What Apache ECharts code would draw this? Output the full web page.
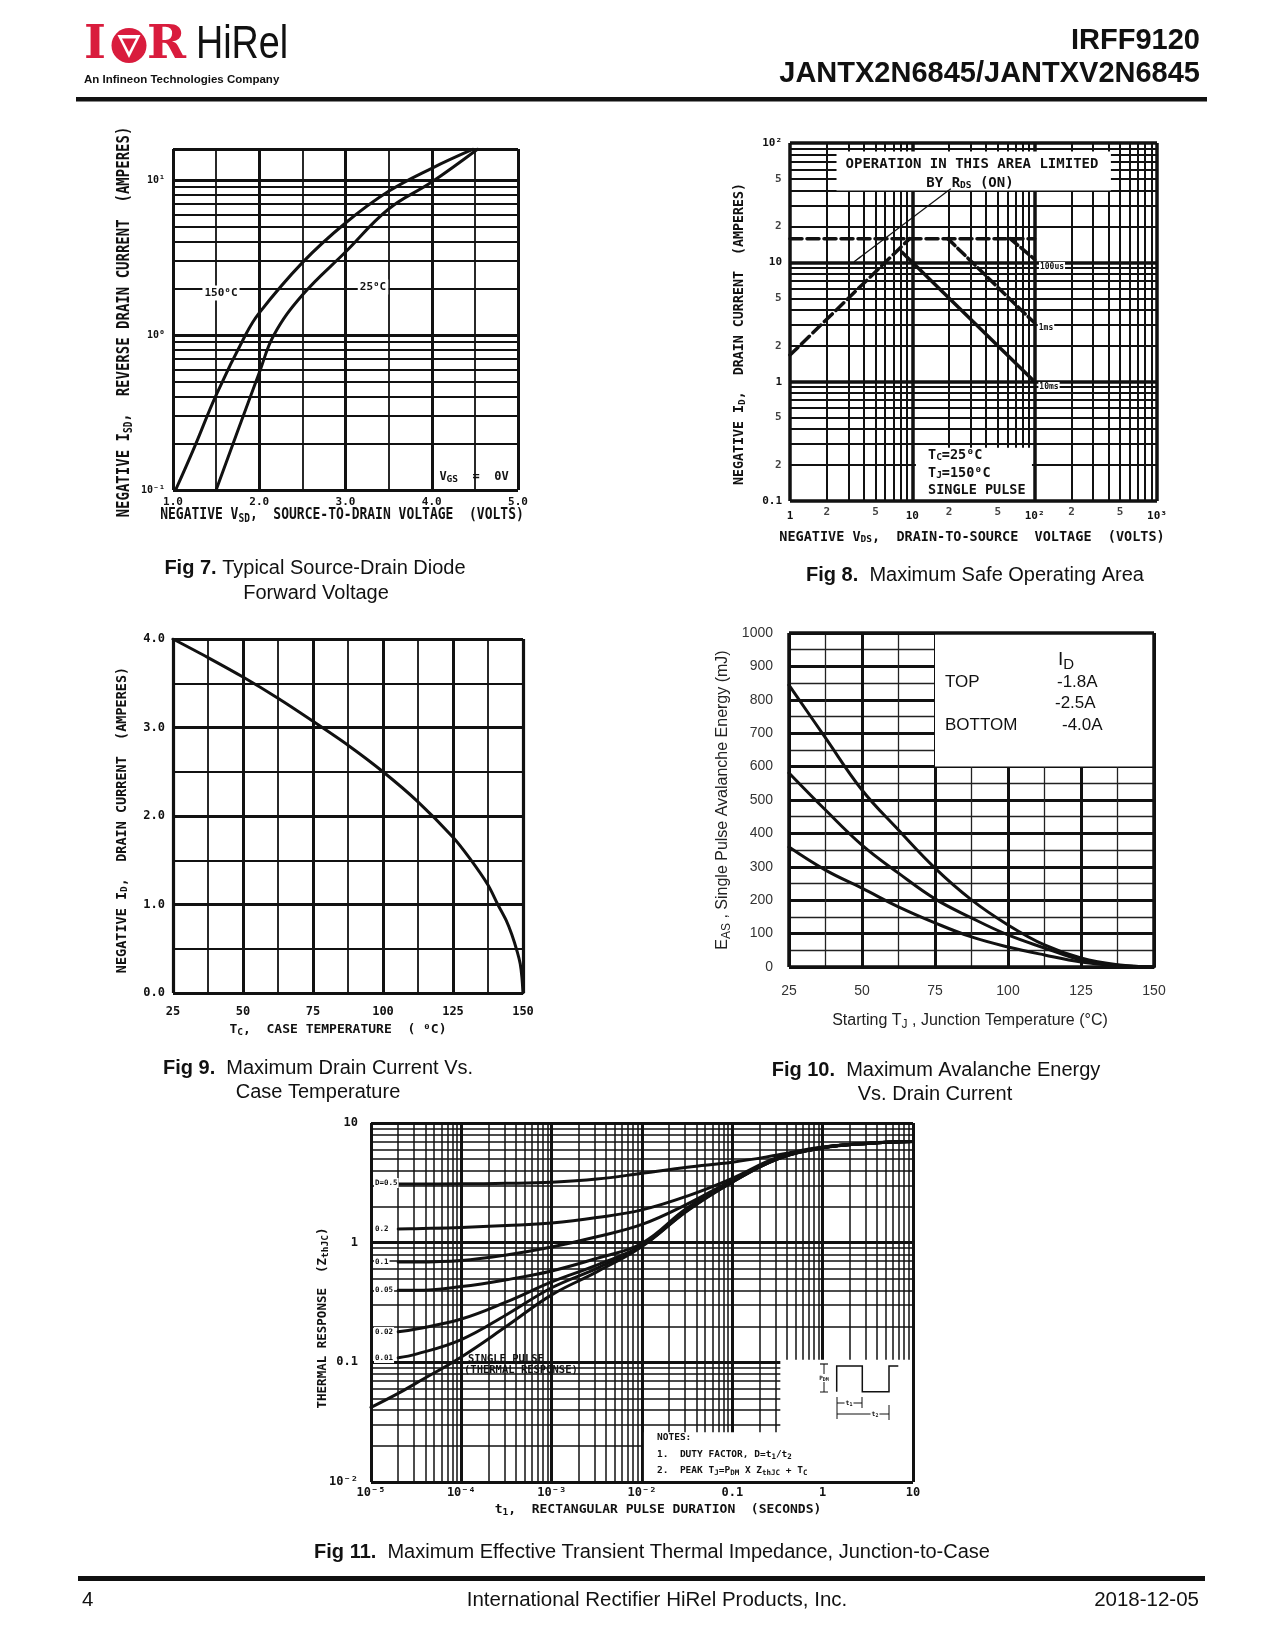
<!DOCTYPE html>
<html>
<head>
<meta charset="utf-8">
<title>IRFF9120 - Fig 7 to Fig 11</title>
<script src="https://cdn.jsdelivr.net/npm/echarts@6.0.0/dist/echarts.min.js"></script>
<style>
html,body{margin:0;padding:0;background:#fff;}
#page{width:1275px;height:1650px;}
</style>
</head>
<body>
<div id="page"></div>
<script>
// ======================= DATA =======================
// Fig 7 - Typical source-drain diode forward voltage
const fig7V150 = [1.03, 1.25, 1.5, 1.84, 2.0, 2.5, 3.0, 3.5, 4.0, 4.48];
const fig7I150 = [0.10, 0.19, 0.41, 1.00, 1.39, 2.93, 5.28, 8.45, 11.9, 15.8];
const fig7V25  = [1.5, 1.75, 2.0, 2.17, 2.5, 3.0, 3.5, 4.0, 4.53];
const fig7I25  = [0.10, 0.24, 0.57, 1.00, 1.81, 3.43, 6.5, 9.7, 15.8];
const fig7XTickLabels = ['1.0', '2.0', '3.0', '4.0', '5.0'];
const fig7YTickLabels = ['10⁻¹', '10⁰', '10¹'];

// Fig 8 - Maximum safe operating area
const fig8RdsV = [1, 9.5];     const fig8RdsI = [1.67, 15.8];
const fig8IdmV = [1, 100];     const fig8IdmI = [15.8, 15.8];
const fig8V100us = [63, 100];  const fig8I100us = [15.8, 10.6];
const fig8V1ms = [19.5, 100];  const fig8I1ms = [15.8, 3.1];
const fig8V10ms = [8.2, 100];  const fig8I10ms = [12.2, 1.0];
const fig8XTickLabels = ['1', '10', '10²', '10³'];
const fig8YTickLabels = ['0.1', '1', '10', '10²'];
const fig8XSubTickValues = [2, 5, 20, 50, 200, 500];
const fig8XSubTickLabels = ['2', '5', '2', '5', '2', '5'];
const fig8YSubTickValues = [0.2, 0.5, 2, 5, 20, 50];
const fig8YSubTickLabels = ['2', '5', '2', '5', '2', '5'];

// Fig 9 - Maximum drain current vs case temperature
const fig9T = [25, 37.5, 50, 62.5, 75, 87.5, 100, 112.5, 125, 131, 137.5, 141, 144, 146, 148, 149, 149.6, 150];
const fig9I = [4.0, 3.79, 3.57, 3.33, 3.07, 2.80, 2.50, 2.16, 1.76, 1.52, 1.22, 1.0, 0.82, 0.66, 0.46, 0.33, 0.18, 0.0];
const fig9XTickLabels = ['25', '50', '75', '100', '125', '150'];
const fig9YTickLabels = ['0.0', '1.0', '2.0', '3.0', '4.0'];

// Fig 10 - Maximum avalanche energy vs drain current
const fig10T   = [25, 37.5, 50, 62.5, 75, 87.5, 100, 112.5, 125, 137.5, 150];
const fig10Top = [844, 686, 530, 410, 296, 201, 126, 66, 27, 7, 0];   // -1.8 A
const fig10Mid = [581, 470, 365, 281, 204, 147, 96, 57, 21, 5, 0];    // -2.5 A
const fig10Bot = [359, 290, 236, 180, 132, 90, 60, 36, 15, 4, 0];     // -4.0 A
const fig10XTickLabels = ['25', '50', '75', '100', '125', '150'];
const fig10YTickLabels = ['0', '100', '200', '300', '400', '500', '600', '700', '800', '900', '1000'];
const fig10LegendCurrents = ['-1.8A', '-2.5A', '-4.0A'];

// Fig 11 - Transient thermal impedance
const fig11T      = [0.00001, 0.00002, 0.0000316, 0.0001, 0.000316, 0.001, 0.00316, 0.01, 0.0316, 0.1, 0.316, 1, 3.16, 10];
const fig11Single = [0.042, 0.055, 0.067, 0.111, 0.20, 0.366, 0.57, 0.93, 1.84, 3.2, 5.0, 6.2, 6.75, 7.0];
const fig11D001   = [null, 0.109, 0.117, 0.155, 0.25, 0.42, 0.61, 0.94, 1.86, 3.21, 5.0, 6.2, 6.75, 7.0];
const fig11D002   = [null, 0.18, 0.19, 0.23, 0.32, 0.47, 0.65, 0.95, 1.88, 3.23, 5.02, 6.2, 6.75, 7.0];
const fig11D005   = [null, 0.40, 0.40, 0.43, 0.49, 0.58, 0.74, 0.99, 1.95, 3.26, 5.05, 6.2, 6.75, 7.0];
const fig11D01    = [null, 0.69, 0.69, 0.71, 0.79, 0.92, 1.12, 1.42, 2.10, 3.32, 5.08, 6.22, 6.75, 7.0];
const fig11D02    = [null, 1.30, 1.31, 1.34, 1.39, 1.46, 1.62, 1.88, 2.45, 3.45, 5.15, 6.25, 6.75, 7.0];
const fig11D05    = [null, 3.09, 3.09, 3.10, 3.13, 3.20, 3.40, 3.80, 4.27, 4.70, 5.40, 6.3, 6.8, 7.0];
const fig11DutyLabels = ['D=0.5', '0.2', '0.1', '0.05', '0.02', '0.01'];
const fig11XTickLabels = ['10⁻⁵', '10⁻⁴', '10⁻³', '10⁻²', '0.1', '1', '10'];
const fig11YTickLabels = ['10⁻²', '0.1', '1', '10'];

// ======================= HELPERS =======================
const MONO = 'DejaVu Sans Mono';
const SANS = 'Liberation Sans';
const INK = '#111';
const RED = '#d91c3d';
const FIG7_YMAX = Math.pow(10, 1.2);

function pairs(xs, ys) {
  const out = [];
  xs.forEach((x, i) => { if (ys[i] != null) out.push([x, ys[i]]); });
  return out;
}
function logMinor(decades) {
  const out = [];
  decades.forEach(d => { for (let m = 2; m <= 9; m++) out.push(+(m * d).toPrecision(3)); });
  return out;
}
const dec = v => Math.round(Math.log10(v));
const isDec = v => Math.abs(Math.log10(v) - dec(v)) < 1e-6;
const vl = (vals, w) => vals.map(v => ({ xAxis: v, lineStyle: { width: w, color: INK, type: 'solid' } }));
const hl = (vals, w) => vals.map(v => ({ yAxis: v, lineStyle: { width: w, color: INK, type: 'solid' } }));

function rules(gi, items, z) {
  return {
    type: 'line', xAxisIndex: gi, yAxisIndex: gi, data: [], silent: true, animation: false,
    markLine: {
      z, silent: true, animation: false, symbol: ['none', 'none'], precision: 12,
      label: { show: false }, emphasis: { disabled: true },
      lineStyle: { color: INK, type: 'solid', width: 1.5 }, data: items
    }
  };
}
function boxes(gi, rects) {
  return {
    type: 'line', xAxisIndex: gi, yAxisIndex: gi, data: [], silent: true, animation: false,
    markArea: {
      z: 1, silent: true, animation: false, label: { show: false }, emphasis: { disabled: true },
      itemStyle: { color: '#ffffff', opacity: 1, borderWidth: 0 },
      data: rects.map(r => [{ xAxis: r[0], yAxis: r[1] }, { xAxis: r[2], yAxis: r[3] }])
    }
  };
}
function curve(gi, data, o) {
  o = o || {};
  return {
    type: 'line', xAxisIndex: gi, yAxisIndex: gi, data, symbol: 'none', showSymbol: false,
    smooth: o.smooth === undefined ? 0.4 : o.smooth,
    silent: true, animation: false, z: 2, clip: true,
    lineStyle: { color: INK, width: o.width || 3, type: o.dash || 'solid', cap: 'round', join: 'round' }
  };
}
function labelAxis(o) {
  return Object.assign({ fontFamily: MONO, fontWeight: 'bold', fontSize: 11, color: INK }, o);
}
function T(x, y, text, o) {
  o = o || {};
  const el = {
    type: 'text', x, y, z: 100, silent: true,
    rotation: o.rot || 0, scaleX: o.sx || 1, scaleY: o.sy || 1,
    style: {
      text, font: o.font || `bold 12px "${MONO}"`, fill: o.color || INK,
      align: o.align || 'center', textAlign: o.align || 'center',
      verticalAlign: 'middle', textVerticalAlign: 'middle'
    }
  };
  if (o.rich) el.style.rich = o.rich;
  if (o.bg) { el.style.backgroundColor = o.bg; el.style.padding = o.pad || [1, 2]; }
  return el;
}
const sub = (size, fam, weight, drop) => ({ fontSize: size, fontFamily: fam, fontWeight: weight || 'bold', padding: [drop, 0, 0, 0] });
const capRich = { b: { fontWeight: 'bold', fontSize: 20, fontFamily: SANS } };
const capFont = `20px "${SANS}"`;
const monoSub = { s: sub(9.5, MONO, 'bold', 6) };
function L(x1, y1, x2, y2, w) {
  return { type: 'line', z: 100, silent: true, shape: { x1, y1, x2, y2 }, style: { stroke: INK, lineWidth: w || 1 } };
}

// ======================= GRIDS & AXES =======================
const grids = [
  { left: 173, top: 149, width: 345, height: 341 },   // Fig 7
  { left: 790, top: 143, width: 367, height: 358 },   // Fig 8
  { left: 173, top: 639, width: 350, height: 354 },   // Fig 9
  { left: 789, top: 633, width: 365, height: 334 },   // Fig 10
  { left: 371, top: 1123, width: 542, height: 359 }   // Fig 11
].map(g => Object.assign({ containLabel: false, outerBoundsMode: 'none', show: false }, g));

const noLine = { axisLine: { show: false }, axisTick: { show: false } };
const linGrid = (wMaj, wMin, cMin) => ({
  splitLine: { show: true, lineStyle: { color: INK, width: wMaj } },
  minorTick: { show: false, splitNumber: 2 },
  minorSplitLine: { show: true, lineStyle: { color: cMin || INK, width: wMin } }
});
const logNoGrid = { splitLine: { show: false }, minorSplitLine: { show: false } };

const xAxes = [
  Object.assign({ gridIndex: 0, type: 'value', min: 1, max: 5, interval: 1,
    axisLabel: labelAxis({ margin: 6.5, formatter: v => fig7XTickLabels[Math.round(v - 1)] || '' }) }, noLine, linGrid(3, 1.8)),
  Object.assign({ gridIndex: 1, type: 'log', logBase: 10, min: 1, max: 1000,
    axisLabel: labelAxis({ margin: 10, formatter: v => isDec(v) ? (fig8XTickLabels[dec(v)] || '') : '' }) }, noLine, logNoGrid),
  Object.assign({ gridIndex: 2, type: 'value', min: 25, max: 150, interval: 25,
    axisLabel: labelAxis({ margin: 13, fontSize: 12, formatter: v => fig9XTickLabels[Math.round((v - 25) / 25)] || '' }) }, noLine, linGrid(3, 1.8)),
  Object.assign({ gridIndex: 3, type: 'value', min: 25, max: 150, interval: 25,
    axisLabel: { margin: 17, fontFamily: SANS, fontSize: 14, color: '#333',
      formatter: v => fig10XTickLabels[Math.round((v - 25) / 25)] || '' } }, noLine, linGrid(3, 1.3, '#222')),
  Object.assign({ gridIndex: 4, type: 'log', logBase: 10, min: 0.00001, max: 10,
    axisLabel: labelAxis({ margin: 5, fontSize: 12, formatter: v => isDec(v) ? (fig11XTickLabels[dec(v) + 5] || '') : '' }) }, noLine, logNoGrid)
];
const yAxes = [
  Object.assign({ gridIndex: 0, type: 'log', logBase: 10, min: 0.1, max: FIG7_YMAX,
    axisLabel: labelAxis({ margin: 8, fontSize: 10, showMaxLabel: false, formatter: v => isDec(v) ? (fig7YTickLabels[dec(v) + 1] || '') : '' }) }, noLine, logNoGrid),
  Object.assign({ gridIndex: 1, type: 'log', logBase: 10, min: 0.1, max: 100,
    axisLabel: labelAxis({ margin: 8, formatter: v => isDec(v) ? (fig8YTickLabels[dec(v) + 1] || '') : '' }) }, noLine, logNoGrid),
  Object.assign({ gridIndex: 2, type: 'value', min: 0, max: 4, interval: 1,
    axisLabel: labelAxis({ margin: 8, fontSize: 12, formatter: v => fig9YTickLabels[Math.round(v)] || '' }) }, noLine, linGrid(3, 1.8)),
  Object.assign({ gridIndex: 3, type: 'value', min: 0, max: 1000, interval: 100,
    axisLabel: { margin: 16, fontFamily: SANS, fontSize: 14, color: '#333',
      formatter: v => fig10YTickLabels[Math.round(v / 100)] || '' } }, noLine, linGrid(3, 1.3, '#222')),
  Object.assign({ gridIndex: 4, type: 'log', logBase: 10, min: 0.01, max: 10,
    axisLabel: labelAxis({ margin: 13, fontSize: 12, formatter: v => isDec(v) ? (fig11YTickLabels[dec(v) + 2] || '') : '' }) }, noLine, logNoGrid)
];

// ======================= SERIES =======================
const series = [];
// ---- Fig 7
series.push(rules(0, [...hl(logMinor([0.1, 1]), 1.8), ...hl([1, 10], 3)], 0.5));
series.push(curve(0, pairs(fig7V150, fig7I150)));
series.push(curve(0, pairs(fig7V25, fig7I25)));
series.push(rules(0, [...vl([1, 5], 3), ...hl([0.1, FIG7_YMAX], 3)], 4));

// ---- Fig 8
series.push(rules(1, [...vl(logMinor([1, 10, 100]), 2), ...vl([10, 100], 3.5),
                      ...hl(logMinor([0.1, 1, 10]), 2), ...hl([1, 10], 3.5)], 0.5));
series.push(boxes(1, [[2.4, 40, 420, 85], [10.7, 0.1, 95, 0.28]]));
series.push(curve(1, pairs(fig8RdsV, fig8RdsI), { dash: [11, 5], width: 3.5, smooth: false }));
series.push(curve(1, pairs(fig8IdmV, fig8IdmI), { dash: [12, 5], width: 3.5, smooth: false }));
series.push(curve(1, pairs(fig8V100us, fig8I100us), { dash: [10, 4], width: 3.5, smooth: false }));
series.push(curve(1, pairs(fig8V1ms, fig8I1ms), { dash: [10, 4], width: 3.5, smooth: false }));
series.push(curve(1, pairs(fig8V10ms, fig8I10ms), { width: 3.5, smooth: false }));
series.push({
  type: 'line', xAxisIndex: 1, yAxisIndex: 1, data: [], silent: true, animation: false,
  markLine: { z: 4, silent: true, animation: false, symbol: ['none', 'arrow'], symbolSize: [1, 9],
    label: { show: false }, emphasis: { disabled: true },
    lineStyle: { color: INK, width: 1.2, type: 'solid' },
    data: [[{ coord: [20.6, 41.4] }, { coord: [3.34, 10.1] }]] }
});
series.push({
  type: 'scatter', xAxisIndex: 1, yAxisIndex: 1, symbolSize: 1, clip: false, silent: true, z: 3, animation: false,
  itemStyle: { color: 'rgba(0,0,0,0)' },
  data: fig8XSubTickValues.map(v => [v, 0.1]),
  label: { show: true, position: 'bottom', distance: 5, formatter: p => fig8XSubTickLabels[p.dataIndex],
    fontFamily: MONO, fontWeight: 'bold', fontSize: 11, color: INK }
});
series.push({
  type: 'scatter', xAxisIndex: 1, yAxisIndex: 1, symbolSize: 1, clip: false, silent: true, z: 3, animation: false,
  itemStyle: { color: 'rgba(0,0,0,0)' },
  data: fig8YSubTickValues.map(v => [1, v]),
  label: { show: true, position: 'left', distance: 8, formatter: p => fig8YSubTickLabels[p.dataIndex],
    fontFamily: MONO, fontWeight: 'bold', fontSize: 11, color: INK }
});
series.push(rules(1, [...vl([1, 1000], 3.5), ...hl([0.1, 100], 3.5)], 4));

// ---- Fig 9
series.push(curve(2, pairs(fig9T, fig9I), { smooth: 0.3 }));
series.push(rules(2, [...vl([25, 150], 3.2), ...hl([0, 4], 3.2)], 4));

// ---- Fig 10
series.push(boxes(3, [[75, 600, 150, 1000]]));
series.push(curve(3, pairs(fig10T, fig10Top)));
series.push(curve(3, pairs(fig10T, fig10Mid)));
series.push(curve(3, pairs(fig10T, fig10Bot)));
series.push(rules(3, [...vl([25, 150], 3.5), ...hl([0, 1000], 3.5)], 4));

// ---- Fig 11
series.push(rules(4, [...vl(logMinor([0.00001, 0.0001, 0.001, 0.01, 0.1, 1]), 1.5), ...vl([0.0001, 0.001, 0.01, 0.1, 1], 3),
                      ...hl(logMinor([0.01, 0.1, 1]), 1.5), ...hl([0.1, 1], 3)], 0.5));
series.push(boxes(4, [[0.0105, 0.01, 10, 0.026], [0.34, 0.01, 10, 0.105]]));
[fig11Single, fig11D001, fig11D002, fig11D005, fig11D01, fig11D02, fig11D05].forEach(arr => {
  series.push(curve(4, pairs(fig11T, arr), { width: 3 }));
});
series.push(rules(4, [...vl([0.00001, 10], 3), ...hl([0.01, 10], 3)], 4));

// ======================= GRAPHIC (page text) =======================
const g = [];
// header
g.push(T(84, 46, 'I', { font: `bold 47px "DejaVu Serif"`, color: RED, align: 'left' }));
g.push({ type: 'circle', z: 100, silent: true, shape: { cx: 129, cy: 45.5, r: 17.5 }, style: { fill: RED } });
g.push({ type: 'polygon', z: 101, silent: true, shape: { points: [[117.5, 35], [140.5, 35], [129, 58]] }, style: { fill: '#fff' } });
g.push({ type: 'polygon', z: 102, silent: true, shape: { points: [[122, 38.5], [136, 38.5], [129, 52]] }, style: { fill: RED } });
g.push(T(147, 46, 'R', { font: `bold 47px "DejaVu Serif"`, color: RED, align: 'left' }));
g.push(T(196, 45, 'HiRel', { font: `46px "${SANS}"`, align: 'left', sx: 0.82 }));
g.push(T(84, 80, 'An Infineon Technologies Company', { font: `bold 11.5px "${SANS}"`, align: 'left' }));
g.push(T(1200, 41, 'IRFF9120', { font: `bold 29px "${SANS}"`, align: 'right' }));
g.push(T(1200, 74, 'JANTX2N6845/JANTXV2N6845', { font: `bold 29px "${SANS}"`, align: 'right' }));
g.push({ type: 'rect', z: 100, silent: true, shape: { x: 76, y: 97, width: 1131, height: 4.5 }, style: { fill: INK } });

// Fig 7 texts
g.push(T(221, 293, '150⁰C', { font: `bold 11px "${MONO}"`, bg: '#fff', pad: [2, 2] }));
g.push(T(373, 287, '25⁰C', { font: `bold 11px "${MONO}"`, bg: '#fff', pad: [2, 2] }));
g.push(T(474, 477, 'V{s|GS}  =  0V', { font: `bold 12px "${MONO}"`, rich: monoSub }));
g.push(T(342, 515, 'NEGATIVE V{s|SD},  SOURCE-TO-DRAIN VOLTAGE  (VOLTS)', { font: `bold 13px "${MONO}"`, rich: monoSub, sy: 1.25 }));
g.push(T(125, 322, 'NEGATIVE I{s|SD},  REVERSE DRAIN CURRENT  (AMPERES)', { font: `bold 14px "${MONO}"`, rich: monoSub, rot: Math.PI / 2, sy: 1.2 }));
g.push(T(315, 568, '{b|Fig 7.} Typical Source-Drain Diode', { font: capFont, rich: capRich }));
g.push(T(316, 593, 'Forward Voltage', { font: capFont }));

// Fig 8 texts
g.push(T(972, 164, 'OPERATION IN THIS AREA LIMITED', { font: `bold 14px "${MONO}"` }));
g.push(T(970, 183, 'BY R{s|DS} (ON)', { font: `bold 14px "${MONO}"`, rich: monoSub }));
g.push(T(1052, 267, '100us', { font: `bold 8px "${MONO}"`, bg: '#fff', pad: [1, 1] }));
g.push(T(1046, 328, '1ms', { font: `bold 8px "${MONO}"`, bg: '#fff', pad: [1, 1] }));
g.push(T(1049, 387, '10ms', { font: `bold 8px "${MONO}"`, bg: '#fff', pad: [1, 1] }));
g.push(T(928, 455, 'T{s|C}=25⁰C', { font: `bold 13.5px "${MONO}"`, rich: monoSub, align: 'left' }));
g.push(T(928, 473, 'T{s|J}=150⁰C', { font: `bold 13.5px "${MONO}"`, rich: monoSub, align: 'left' }));
g.push(T(928, 490, 'SINGLE PULSE', { font: `bold 13.5px "${MONO}"`, align: 'left' }));
g.push(T(972, 537, 'NEGATIVE V{s|DS},  DRAIN-TO-SOURCE  VOLTAGE  (VOLTS)', { font: `bold 13.5px "${MONO}"`, rich: monoSub }));
g.push(T(740, 334, 'NEGATIVE I{s|D},  DRAIN CURRENT  (AMPERES)', { font: `bold 13.3px "${MONO}"`, rich: monoSub, rot: Math.PI / 2 }));
g.push(T(975, 575, '{b|Fig 8.}  Maximum Safe Operating Area', { font: capFont, rich: capRich }));

// Fig 9 texts
g.push(T(338, 1030, 'T{s|C},  CASE TEMPERATURE  ( ⁰C)', { font: `bold 13px "${MONO}"`, rich: monoSub }));
g.push(T(122, 820, 'NEGATIVE I{s|D},  DRAIN CURRENT  (AMPERES)', { font: `bold 13.5px "${MONO}"`, rich: monoSub, rot: Math.PI / 2 }));
g.push(T(318, 1068, '{b|Fig 9.}  Maximum Drain Current Vs.', { font: capFont, rich: capRich }));
g.push(T(318, 1092, 'Case Temperature', { font: capFont }));

// Fig 10 texts
const sansSub = { s: sub(12, SANS, 'normal', 8) };
g.push(T(970, 1021, 'Starting T{s|J} , Junction Temperature (°C)', { font: `16px "${SANS}"`, color: '#222', rich: sansSub }));
g.push(T(723, 800, 'E{s|AS} , Single Pulse Avalanche Energy (mJ)', { font: `16px "${SANS}"`, color: '#222', rich: sansSub, rot: Math.PI / 2 }));
g.push(T(1058, 660, 'I{s|D}', { font: `19px "${SANS}"`, rich: { s: sub(15, SANS, 'normal', 9) }, align: 'left' }));
g.push(T(945, 682, 'TOP', { font: `17px "${SANS}"`, align: 'left' }));
g.push(T(945, 725, 'BOTTOM', { font: `17px "${SANS}"`, align: 'left' }));
g.push(T(1057, 682, fig10LegendCurrents[0], { font: `17px "${SANS}"`, align: 'left' }));
g.push(T(1055, 703, fig10LegendCurrents[1], { font: `17px "${SANS}"`, align: 'left' }));
g.push(T(1062, 725, fig10LegendCurrents[2], { font: `17px "${SANS}"`, align: 'left' }));
g.push(T(936, 1070, '{b|Fig 10.}  Maximum Avalanche Energy', { font: capFont, rich: capRich }));
g.push(T(935, 1094, 'Vs. Drain Current', { font: capFont }));

// Fig 11 texts
const dutyY = [1183, 1229, 1262, 1290, 1332, 1358];
fig11DutyLabels.forEach((t, i) => g.push(T(374, dutyY[i], t, { font: `bold 7.5px "${MONO}"`, bg: '#fff', pad: [1, 1], align: 'left' })));
g.push(T(468, 1359, 'SINGLE PULSE', { font: `bold 10.5px "${MONO}"`, align: 'left' }));
g.push(T(464, 1370, '(THERMAL RESPONSE)', { font: `bold 10.5px "${MONO}"`, align: 'left' }));
const noteSub = { s: sub(7.5, MONO, 'bold', 5) };
g.push(T(657, 1438, 'NOTES:', { font: `bold 9.5px "${MONO}"`, align: 'left' }));
g.push(T(657, 1455, '1.  DUTY FACTOR, D=t{s|1}/t{s|2}', { font: `bold 9.5px "${MONO}"`, rich: noteSub, align: 'left' }));
g.push(T(657, 1471, '2.  PEAK T{s|J}=P{s|DM} X Z{s|thJC} + T{s|C}', { font: `bold 9.5px "${MONO}"`, rich: noteSub, align: 'left' }));
// pulse diagram
g.push({ type: 'polyline', z: 100, silent: true,
  shape: { points: [[836.7, 1391.7], [836.7, 1366], [862.3, 1366], [862.3, 1391.7], [889, 1391.7], [889, 1366], [898.3, 1366]] },
  style: { stroke: INK, lineWidth: 1.5, fill: null } });
g.push(L(824, 1364, 824, 1392, 1));
g.push(L(820, 1364, 828, 1364, 1.2));
g.push(L(820, 1392, 828, 1392, 1));
g.push(T(824, 1378, 'P{s|DM}', { font: `bold 6px "${MONO}"`, rich: { s: sub(5, MONO, 'bold', 3) }, bg: '#fff', pad: [0, 0] }));
g.push(L(837, 1397, 837, 1419, 1));
g.push(L(862, 1397, 862, 1408, 1));
g.push(L(889, 1405, 889, 1420, 1));
g.push(L(837, 1403, 862, 1403, 1));
g.push(L(837, 1414, 889, 1414, 1));
g.push(T(849, 1403, 't{s|1}', { font: `bold 6.5px "${MONO}"`, rich: { s: sub(5, MONO, 'bold', 3) }, bg: '#fff', pad: [0, 1] }));
g.push(T(875, 1414, 't{s|2}', { font: `bold 6.5px "${MONO}"`, rich: { s: sub(5, MONO, 'bold', 3) }, bg: '#fff', pad: [0, 1] }));
g.push(T(658, 1510, 't{s|1},  RECTANGULAR PULSE DURATION  (SECONDS)', { font: `bold 13px "${MONO}"`, rich: monoSub }));
g.push(T(323, 1318, 'THERMAL RESPONSE  (Z{s|thJC})', { font: `bold 12.5px "${MONO}"`, rich: monoSub, rot: Math.PI / 2 }));
g.push(T(652, 1552, '{b|Fig 11.}  Maximum Effective Transient Thermal Impedance, Junction-to-Case', { font: capFont, rich: capRich }));

// footer
g.push({ type: 'rect', z: 100, silent: true, shape: { x: 78, y: 1576, width: 1127, height: 5 }, style: { fill: INK } });
g.push(T(82, 1600, '4', { font: `20.5px "${SANS}"`, align: 'left' }));
g.push(T(657, 1600, 'International Rectifier HiRel Products, Inc.', { font: `20.5px "${SANS}"` }));
g.push(T(1199, 1600, '2018-12-05', { font: `20.5px "${SANS}"`, align: 'right' }));

// ======================= RENDER =======================
const chart = echarts.init(document.getElementById('page'), null, { renderer: 'canvas', width: 1275, height: 1650 });
chart.setOption({
  animation: false,
  backgroundColor: '#ffffff',
  textStyle: { fontFamily: SANS },
  grid: grids,
  xAxis: xAxes,
  yAxis: yAxes,
  series,
  graphic: { elements: g }
});
</script>
</body>
</html>
